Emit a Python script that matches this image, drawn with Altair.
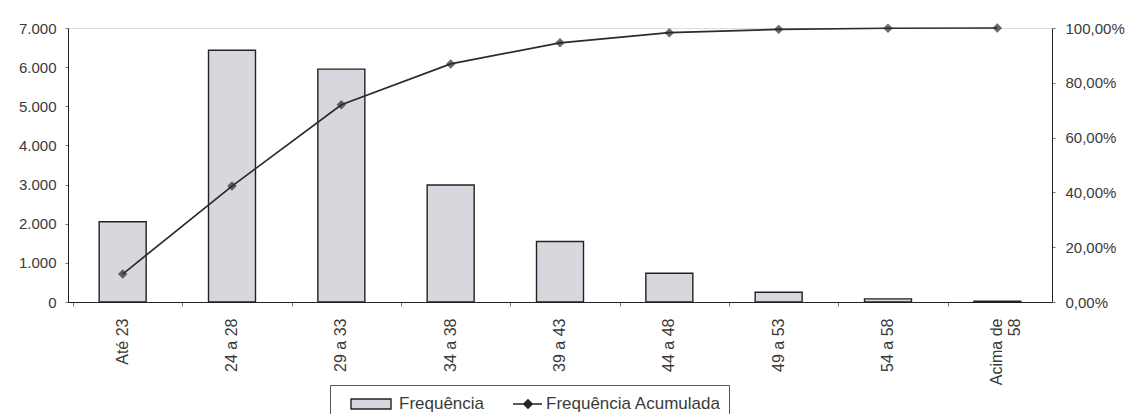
import altair as alt
import pandas as pd

categorias = ["Até 23", "24 a 28", "29 a 33", "34 a 38", "39 a 43",
              "44 a 48", "49 a 53", "54 a 58", "Acima de 58"]
frequencia = [2050, 6430, 5950, 2990, 1545, 735, 250, 80, 20]
acumulada = [10.2, 42.3, 72.0, 86.9, 94.6, 98.3, 99.5, 99.9, 100.0]
series = ["Frequência", "Frequência Acumulada"]
ticks_freq = [0, 1000, 2000, 3000, 4000, 5000, 6000, 7000]
ticks_pct = [0, 20, 40, 60, 80, 100]

df = pd.DataFrame({"cat": categorias, "freq": frequencia, "acum": acumulada})
df_leg = pd.DataFrame({"serie": series})

FONT = "Liberation Sans"
TXT = "#3a3a3a"
BAR_FILL = "#d7d7dd"
LINE_COL = "#2b2b2b"
EDGE = "#222222"

x = alt.X(
    "cat:N", sort=categorias, title=None,
    axis=alt.Axis(
        labelAngle=-90, labelPadding=12, tickSize=4, bandPosition=0,
        labelFont=FONT, labelFontSize=16, labelColor=TXT,
        domainColor=EDGE, tickColor="#777777",
        labelExpr="datum.value == 'Acima de 58' ? ['Acima de', '58'] : datum.value",
    ),
)

bars = alt.Chart(df).mark_bar(size=47, fill=BAR_FILL, stroke=EDGE, strokeWidth=1.4).encode(
    x=x,
    y=alt.Y("freq:Q", title=None,
            scale=alt.Scale(domain=[0, 7000], nice=False),
            axis=alt.Axis(values=ticks_freq, grid=False, tickSize=3,
                          labelFont=FONT, labelFontSize=15, labelColor=TXT,
                          domainColor=EDGE, tickColor="#777777", labelPadding=9,
                          labelExpr="replace(format(datum.value, ','), ',', '.')")),
)

y2 = alt.Y("acum:Q", title=None,
           scale=alt.Scale(domain=[0, 100], nice=False),
           axis=alt.Axis(orient="right", values=ticks_pct, grid=False, tickSize=3,
                         labelFont=FONT, labelFontSize=15, labelColor=TXT,
                         domainColor=EDGE, tickColor="#777777", labelPadding=10,
                         labelExpr="replace(format(datum.value, '.2f'), '.', ',') + '%'"))

line = alt.Chart(df).mark_line(strokeWidth=1.7, color=LINE_COL).encode(x=x, y=y2)
pts = alt.Chart(df).mark_point(shape="diamond", filled=True, size=90, color=LINE_COL).encode(x=x, y=y2)

legend = alt.Legend(
    orient="none", legendX=262, legendY=357,
    direction="horizontal", title=None,
    strokeColor="#555555", padding=8,
    labelFont=FONT, labelFontSize=17, labelColor=TXT, labelLimit=400,
    symbolSize=400, labelOffset=39, columnPadding=0,
    symbolStrokeColor=EDGE, symbolStrokeWidth=1.4, symbolOpacity=1,
)
leg_layer = alt.Chart(df_leg).transform_filter("false").mark_point(filled=True, strokeWidth=1.4).encode(
    shape=alt.Shape("serie:N", scale=alt.Scale(
        domain=series,
        range=["M0.2,-0.5H4.2V0.5H0.2Z",
               "M1.7,0H4.6M3.2,-0.42L3.62,0L3.2,0.42L2.78,0Z"]),
        legend=legend),
    fill=alt.Fill("serie:N", scale=alt.Scale(domain=series, range=[BAR_FILL, LINE_COL]),
                  legend=legend),
    stroke=alt.Stroke("serie:N", scale=alt.Scale(domain=series, range=[EDGE, EDGE]),
                      legend=legend),
)

chart = alt.layer(bars, alt.layer(line, pts), leg_layer).resolve_scale(y="independent").properties(
    width=984, height=274,
    autosize=alt.AutoSizeParams(type="none"),
    padding={"left": 60, "top": 20, "right": 73, "bottom": 120},
).configure_view(stroke="#333333", strokeWidth=1).configure(background="white")

chart.save("out.html", embed_options={"renderer": "svg", "actions": False})
